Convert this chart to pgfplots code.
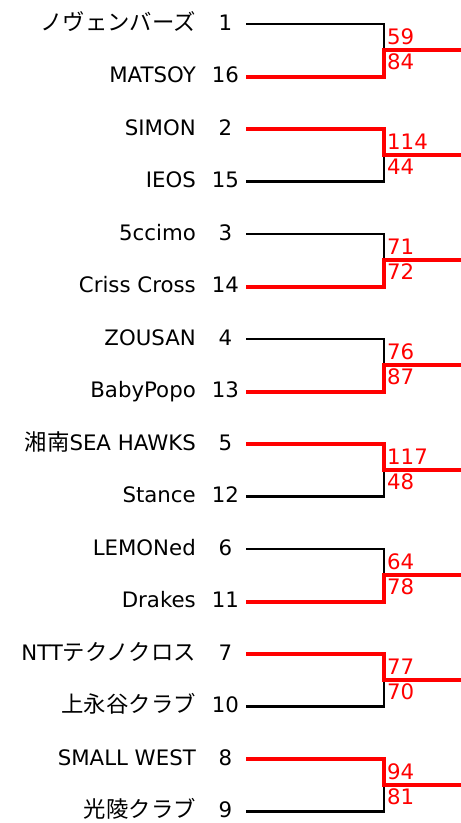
\documentclass[border=0pt]{standalone}
\usepackage{pgfplots}
\pgfplotsset{compat=1.18}
\usepackage{fontspec}
\setmainfont{DejaVu Sans}
\newfontfamily\cjk[Scale=1.05]{Noto Sans CJK JP}
\definecolor{winred}{HTML}{FF0000}
\pgfplotsset{
  losepath/.style={black, line width=2.2pt, mark=none, line join=miter, line cap=butt},
  winpath/.style={winred, line width=4pt, mark=none, line join=miter, line cap=butt},
}
\tikzset{
  nm/.style={anchor=base east, inner sep=0pt, font=\fontsize{21.3}{24}\selectfont},
  sd/.style={anchor=base, inner sep=0pt, font=\fontsize{21.3}{24}\selectfont},
  sc/.style={anchor=base west, inner sep=0pt, text=winred, font=\fontsize{21.3}{24}\selectfont},
}
\begin{document}
\begin{tikzpicture}
\useasboundingbox (0,0) rectangle (461pt,823pt);
\begin{axis}[at={(0,0)}, anchor=south west, width=461pt, height=823pt, scale only axis,
  xmin=0, xmax=461, ymin=0, ymax=823, y dir=reverse, hide axis, clip=false]
% losers
\addplot[losepath] coordinates {(246,24) (384,24) (384,50.25)};
\addplot[losepath] coordinates {(246,181.5) (384,181.5) (384,155.25)};
\addplot[losepath] coordinates {(246,234) (384,234) (384,260.25)};
\addplot[losepath] coordinates {(246,339) (384,339) (384,365.25)};
\addplot[losepath] coordinates {(246,496.5) (384,496.5) (384,470.25)};
\addplot[losepath] coordinates {(246,549) (384,549) (384,575.25)};
\addplot[losepath] coordinates {(246,706.5) (384,706.5) (384,680.25)};
\addplot[losepath] coordinates {(246,811.5) (384,811.5) (384,785.25)};
% winners
\addplot[winpath] coordinates {(246,76.5) (384,76.5) (384,50.25) (462,50.25)};
\addplot[winpath] coordinates {(246,129) (384,129) (384,155.25) (462,155.25)};
\addplot[winpath] coordinates {(246,286.5) (384,286.5) (384,260.25) (462,260.25)};
\addplot[winpath] coordinates {(246,391.5) (384,391.5) (384,365.25) (462,365.25)};
\addplot[winpath] coordinates {(246,444) (384,444) (384,470.25) (462,470.25)};
\addplot[winpath] coordinates {(246,601.5) (384,601.5) (384,575.25) (462,575.25)};
\addplot[winpath] coordinates {(246,654) (384,654) (384,680.25) (462,680.25)};
\addplot[winpath] coordinates {(246,759) (384,759) (384,785.25) (462,785.25)};
% names
\node[nm] at (axis cs:196,30) {{\cjk ノヴェンバーズ}};
\node[nm] at (axis cs:196,82.5) {MATSOY};
\node[nm] at (axis cs:196,135) {SIMON};
\node[nm] at (axis cs:196,187.5) {IEOS};
\node[nm] at (axis cs:196,240) {5ccimo};
\node[nm] at (axis cs:196,292.5) {Criss Cross};
\node[nm] at (axis cs:196,345) {ZOUSAN};
\node[nm] at (axis cs:196,397.5) {BabyPopo};
\node[nm] at (axis cs:196,450) {{\cjk 湘南}SEA HAWKS};
\node[nm] at (axis cs:196,502.5) {Stance};
\node[nm] at (axis cs:196,555) {LEMONed};
\node[nm] at (axis cs:196,607.5) {Drakes};
\node[nm] at (axis cs:196,660) {NTT{\cjk テクノクロス}};
\node[nm] at (axis cs:196,712.5) {{\cjk 上永谷クラブ}};
\node[nm] at (axis cs:196,765) {SMALL WEST};
\node[nm] at (axis cs:196,817.5) {{\cjk 光陵クラブ}};
% seeds
\node[sd] at (axis cs:225.5,30) {1};
\node[sd] at (axis cs:225.5,82.5) {16};
\node[sd] at (axis cs:225.5,135) {2};
\node[sd] at (axis cs:225.5,187.5) {15};
\node[sd] at (axis cs:225.5,240) {3};
\node[sd] at (axis cs:225.5,292.5) {14};
\node[sd] at (axis cs:225.5,345) {4};
\node[sd] at (axis cs:225.5,397.5) {13};
\node[sd] at (axis cs:225.5,450) {5};
\node[sd] at (axis cs:225.5,502.5) {12};
\node[sd] at (axis cs:225.5,555) {6};
\node[sd] at (axis cs:225.5,607.5) {11};
\node[sd] at (axis cs:225.5,660) {7};
\node[sd] at (axis cs:225.5,712.5) {10};
\node[sd] at (axis cs:225.5,765) {8};
\node[sd] at (axis cs:225.5,817.5) {9};
% scores
\node[sc] at (axis cs:387,44.75) {59};
\node[sc] at (axis cs:387,69.75) {84};
\node[sc] at (axis cs:387,149.75) {114};
\node[sc] at (axis cs:387,174.75) {44};
\node[sc] at (axis cs:387,254.75) {71};
\node[sc] at (axis cs:387,279.75) {72};
\node[sc] at (axis cs:387,359.75) {76};
\node[sc] at (axis cs:387,384.75) {87};
\node[sc] at (axis cs:387,464.75) {117};
\node[sc] at (axis cs:387,489.75) {48};
\node[sc] at (axis cs:387,569.75) {64};
\node[sc] at (axis cs:387,594.75) {78};
\node[sc] at (axis cs:387,674.75) {77};
\node[sc] at (axis cs:387,699.75) {70};
\node[sc] at (axis cs:387,779.75) {94};
\node[sc] at (axis cs:387,804.75) {81};
\end{axis}
\end{tikzpicture}
\end{document}
